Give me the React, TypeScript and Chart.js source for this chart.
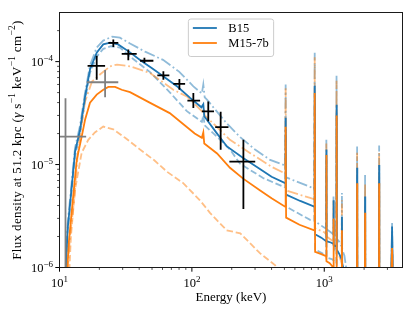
import React, { useEffect, useRef } from 'react';
import { Chart, registerables } from 'chart.js';

Chart.register(...registerables);

// ---------- axis ranges & tick labels ----------
const X_MIN = 10;
const X_MAX = 3900;
const Y_MIN = 1e-6;
const Y_MAX = 3e-4;
const X_TICK_VALUES = [10, 100, 1000];
const X_TICK_EXP = ['1', '2', '3'];
const Y_TICK_VALUES = [1e-6, 1e-5, 1e-4];
const Y_TICK_EXP = ['\u22126', '\u22125', '\u22124'];
const X_TITLE = 'Energy (keV)';
const LEGEND_LABELS = ['B15', 'M15-7b'];

// ---------- model spectra: [energy keV, flux] ----------
const B15_NOMINAL: [number, number][] = [
  [11.0, 6e-7], [11.5, 2.3e-6], [12.4, 6.3e-6], [13.1, 1.33e-5], [14.3, 2.18e-5], [15.6, 4.56e-5],
  [17.0, 8.4e-5], [19.1, 1.22e-4], [21.4, 1.47e-4], [24.1, 1.53e-4], [27.7, 1.47e-4], [34.1, 1.23e-4],
  [41.3, 1.02e-4], [50.0, 8.6e-5], [60.0, 7.3e-5], [78.0, 5.7e-5], [97.0, 4.45e-5], [118, 3.6e-5],
  [122, 3.85e-5], [124, 2.95e-5], [154, 2.02e-5], [184, 1.5e-5], [244, 1.16e-5], [316, 9.3e-6],
  [400, 7.6e-6], [506, 6.6e-6], [511, 2.85e-5], [515, 5.1e-6], [658, 4.43e-6], [840, 3.9e-6],
  [847, 5.84e-5], [853, 2.1e-6], [950, 1.95e-6], [1032, 1.8e-6], [1037, 1.4e-5], [1042, 1.8e-6],
  [1120, 1.75e-6], [1170, 1.7e-6], [1175, 4.5e-6], [1180, 1.65e-6], [1232, 1.6e-6], [1238, 3.8e-5],
  [1244, 1.5e-6], [1300, 1.35e-6], [1354, 1.2e-6], [1360, 3.1e-6], [1366, 1.1e-6], [1450, 8e-7],
  [1500, 5e-7], [1765, 5e-7], [1771, 9.3e-6], [1777, 5e-7], [2027, 5e-7], [2034, 4.9e-6], [2041, 5e-7],
  [2590, 5e-7], [2598, 9.9e-6], [2606, 5e-7], [3190, 5e-7], [3253, 2.5e-6], [3310, 5e-7], [4000, 5e-7],
];

const B15_UPPER: [number, number][] = [
  [11.0, 7e-7], [11.5, 2.6e-6], [12.4, 7e-6], [13.1, 1.45e-5], [14.3, 2.4e-5], [15.6, 5e-5],
  [17.0, 9.2e-5], [19.1, 1.37e-4], [21.4, 1.6e-4], [25.0, 1.75e-4], [28.6, 1.71e-4], [34.1, 1.5e-4],
  [44.3, 1.25e-4], [60.5, 1.04e-4], [80, 8.0e-5], [102.6, 5.75e-5], [119, 4.9e-5], [122, 6e-5],
  [125, 4.5e-5], [130, 4.27e-5], [184, 2.5e-5], [231, 1.85e-5], [300, 1.4e-5], [390, 1.11e-5],
  [506, 9.8e-6], [511, 6e-5], [515, 7.5e-6], [782, 6.07e-6], [840, 5.8e-6], [847, 1.22e-4],
  [853, 2.8e-6], [1010, 2.42e-6], [1032, 2.4e-6], [1037, 1.74e-5], [1042, 2.35e-6], [1120, 2.2e-6],
  [1170, 2.1e-6], [1175, 4.9e-6], [1180, 2.05e-6], [1232, 2e-6], [1238, 7.3e-5], [1244, 1.9e-6],
  [1290, 1.8e-6], [1354, 1.6e-6], [1360, 5.3e-6], [1366, 1.5e-6], [1420, 1.3e-6], [1500, 8e-7],
  [1600, 5e-7], [1765, 5e-7], [1771, 1.5e-5], [1777, 5e-7], [2027, 5e-7], [2034, 7.9e-6], [2041, 5e-7],
  [2590, 5e-7], [2598, 1.53e-5], [2606, 5e-7], [3190, 5e-7], [3253, 2.7e-6], [3310, 5e-7], [4000, 5e-7],
];

const B15_LOWER: [number, number][] = [
  [11.0, 5e-7], [11.5, 2.1e-6], [12.4, 5.8e-6], [13.1, 1.2e-5], [14.3, 2e-5], [15.6, 4.2e-5],
  [17.0, 7.8e-5], [19.1, 1.12e-4], [21.4, 1.33e-4], [24.5, 1.41e-4], [28.6, 1.37e-4], [34.1, 1.12e-4],
  [48.3, 7.9e-5], [68.4, 5.0e-5], [91.7, 3.3e-5], [119, 2.6e-5], [122, 3.0e-5], [125, 2.4e-5],
  [164, 1.74e-5], [194, 1.4e-5], [231, 1.02e-5], [345, 7.4e-6], [506, 6e-6], [511, 2.2e-5],
  [515, 3.9e-6], [782, 2.9e-6], [840, 2.85e-6], [847, 4.5e-5], [853, 1.5e-6], [1010, 1.33e-6],
  [1032, 1.3e-6], [1037, 1.1e-5], [1042, 1.25e-6], [1150, 1.2e-6], [1232, 1.1e-6], [1238, 3.2e-5],
  [1244, 1e-6], [1300, 7e-7], [1354, 5e-7], [1360, 2.5e-6], [1366, 5e-7], [1765, 5e-7], [1771, 8e-6],
  [1777, 5e-7], [2027, 5e-7], [2034, 4e-6], [2041, 5e-7], [2590, 5e-7], [2598, 8.5e-6], [2606, 5e-7],
  [3190, 5e-7], [3253, 2e-6], [3310, 5e-7], [4000, 5e-7],
];

const M15_NOMINAL: [number, number][] = [
  [11.2, 6e-7], [11.8, 1.85e-6], [12.3, 3.24e-6], [13.5, 1.11e-5], [14.7, 1.86e-5], [15.6, 2.72e-5],
  [17.0, 3.99e-5], [19.1, 4.78e-5], [21.4, 5.33e-5], [23.4, 5.68e-5], [26.3, 5.68e-5], [29.5, 5.33e-5],
  [34.1, 5.05e-5], [48, 4.0e-5], [68, 3.16e-5], [105, 2.0e-5], [119, 1.82e-5], [122, 2.05e-5],
  [124, 1.6e-5], [155, 1.28e-5], [194, 9.3e-6], [244, 7.3e-6], [328, 5.6e-6], [400, 4.7e-6],
  [506, 3.9e-6], [511, 2.33e-5], [515, 3.05e-6], [650, 2.6e-6], [840, 2.3e-6], [847, 4.96e-5],
  [853, 1.42e-6], [950, 1.35e-6], [1032, 1.29e-6], [1037, 1.24e-5], [1042, 1.15e-6], [1100, 1.1e-6],
  [1170, 1.0e-6], [1175, 3e-6], [1180, 9e-7], [1232, 8e-7], [1238, 3e-5], [1244, 7e-7], [1300, 5e-7],
  [1354, 5e-7], [1360, 2.3e-6], [1366, 5e-7], [1765, 5e-7], [1771, 6.6e-6], [1777, 5e-7], [2027, 5e-7],
  [2034, 3.4e-6], [2041, 5e-7], [2590, 5e-7], [2598, 6.6e-6], [2606, 5e-7], [3190, 5e-7],
  [3253, 1.55e-6], [3310, 5e-7], [4000, 5e-7],
];

const M15_UPPER: [number, number][] = [
  [11.3, 6e-7], [12.0, 2e-6], [12.9, 4.5e-6], [13.8, 1.39e-5], [15.6, 4.1e-5], [17.6, 6.4e-5],
  [20.2, 7.5e-5], [24.1, 9.0e-5], [27.2, 9.35e-5], [34.1, 9.0e-5], [48.3, 7.76e-5], [72.4, 5.33e-5],
  [91.7, 4.59e-5], [119, 3.3e-5], [122, 3.7e-5], [125, 3.0e-5], [154, 2.33e-5], [194, 1.74e-5],
  [276, 1.29e-5], [400, 9.5e-6], [506, 8.2e-6], [511, 5.5e-5], [515, 5.6e-6], [782, 4.74e-6],
  [840, 4.6e-6], [847, 1.1e-4], [853, 2.4e-6], [1000, 2.2e-6], [1032, 2.1e-6], [1037, 1.6e-5],
  [1042, 2e-6], [1170, 1.8e-6], [1175, 4.5e-6], [1180, 1.7e-6], [1232, 1.6e-6], [1238, 6.5e-5],
  [1244, 1.5e-6], [1354, 1.1e-6], [1360, 4.5e-6], [1366, 1e-6], [1450, 6e-7], [1765, 5e-7],
  [1771, 1.3e-5], [1777, 5e-7], [2027, 5e-7], [2034, 6.5e-6], [2041, 5e-7], [2590, 5e-7],
  [2598, 1.3e-5], [2606, 5e-7], [3190, 5e-7], [3253, 2.2e-6], [3310, 5e-7], [4000, 5e-7],
];

const M15_LOWER: [number, number][] = [
  [11.6, 5e-7], [12.2, 2e-6], [13.1, 5.7e-6], [14.7, 1.3e-5], [16.5, 1.74e-5], [18.5, 2.05e-5],
  [21.4, 2.34e-5], [25.5, 2.2e-5], [31.3, 1.82e-5], [40, 1.42e-5], [52, 1.1e-5], [65, 8.5e-6],
  [86, 6.6e-6], [115, 4.5e-6], [137, 3.4e-6], [183, 2.3e-6], [232, 2.15e-6], [328, 1.37e-6],
  [426, 1.05e-6], [470, 8e-7], [520, 5e-7],
];

// ---------- measured points (black) ----------
const OBS_E = [19.1, 25.5, 33.1, 43.8, 60.9, 80.5, 102.6, 133, 165, 245];
const OBS_E_LO = [16.3, 23.4, 29.5, 40.6, 54.8, 72.4, 92.5, 119, 150, 192];
const OBS_E_HI = [22.1, 27.8, 38.3, 51.2, 67.6, 88.9, 115.4, 147, 189, 301];
const OBS_F = [9.1e-5, 1.52e-4, 1.19e-4, 1.02e-4, 7.36e-5, 6.07e-5, 4.17e-5, 3.28e-5, 2.31e-5, 1.07e-5];
const OBS_F_LO = [6.68e-5, 1.39e-4, 1.03e-4, 9.7e-5, 6.68e-5, 5.34e-5, 3.54e-5, 2.63e-5, 1.39e-5, 3.71e-6];
const OBS_F_HI = [1.14e-4, 1.64e-4, 1.31e-4, 1.09e-4, 8.05e-5, 6.78e-5, 4.95e-5, 4.1e-5, 3.26e-5, 1.74e-5];

// ---------- measured points (gray) ----------
const GRAY_E = [11.1, 22.1];
const GRAY_E_LO = [9.5, 16.1];
const GRAY_E_HI = [15.9, 27.8];
const GRAY_F = [1.87e-5, 6.3e-5];
const GRAY_F_LO = [1e-8, 4.5e-5];
const GRAY_F_HI = [4.4e-5, 8.3e-5];

// ---------- styles ----------
const BLUE = '#1f77b4';
const ORANGE = '#ff7f0e';
const BLUE_LIGHT = 'rgba(31,119,180,0.5)';
const ORANGE_LIGHT = 'rgba(255,127,14,0.5)';
const DASHED = [6.5, 2.8];
const DASHDOT = [11, 2.8, 1.8, 2.8];
const FONT = "'Liberation Serif', 'DejaVu Serif', serif";
const TICK_FS = 12.5;
const TITLE_FS = 13;
const LEGEND_FS = 12.5;

const toXY = (pairs: [number, number][]) => pairs.map(([x, y]) => ({ x, y }));

function crossData(xs: number[], xlo: number[], xhi: number[], ys: number[], ylo: number[], yhi: number[]) {
  const pts: { x: number; y: number | null }[] = [];
  xs.forEach((x, i) => {
    pts.push({ x: xlo[i], y: ys[i] }, { x: xhi[i], y: ys[i] }, { x, y: null });
    pts.push({ x, y: ylo[i] }, { x, y: yhi[i] }, { x, y: null });
  });
  return pts;
}

type Part = { t: string; sup?: boolean; it?: boolean };

function partFont(p: Part, size: number) {
  const s = p.sup ? size * 0.72 : size;
  return `${p.it ? 'italic ' : ''}${s}px ${FONT}`;
}

function richWidth(ctx: CanvasRenderingContext2D, parts: Part[], size: number) {
  let w = 0;
  for (const p of parts) {
    ctx.font = partFont(p, size);
    w += ctx.measureText(p.t).width;
  }
  return w;
}

function drawRich(ctx: any, parts: Part[], x: number, y: number, size: number, align: 'left' | 'center' | 'right', spacing = 0) {
  ctx.letterSpacing = `${spacing}px`;
  const w = richWidth(ctx, parts, size);
  let cx = align === 'left' ? x : align === 'center' ? x - w / 2 : x - w;
  ctx.textAlign = 'left';
  ctx.textBaseline = 'alphabetic';
  for (const p of parts) {
    ctx.font = partFont(p, size);
    ctx.fillText(p.t, cx, p.sup ? y - size * 0.42 : y);
    cx += ctx.measureText(p.t).width;
  }
  ctx.letterSpacing = '0px';
}

const Y_TITLE: Part[] = [
  { t: 'Flux density at 51.2 kpc (' },
  { t: '\u03b3', it: true },
  { t: ' s' }, { t: '\u22121', sup: true },
  { t: ' keV' }, { t: '\u22121', sup: true },
  { t: ' cm' }, { t: '\u22122', sup: true },
  { t: ')' },
];

const decoPlugin = {
  id: 'deco',
  afterDraw(chart: any) {
    const { ctx, chartArea: a, scales } = chart;
    const xs = scales.x;
    const ys = scales.y;
    ctx.save();
    ctx.fillStyle = '#000';
    ctx.strokeStyle = '#000';

    // ticks (major + minor)
    for (let d = -8; d <= 4; d++) {
      for (let m = 1; m <= 9; m++) {
        const v = m * Math.pow(10, d);
        const len = m === 1 ? 4.2 : 2.4;
        ctx.lineWidth = m === 1 ? 1 : 0.7;
        if (v >= X_MIN * 0.999 && v <= X_MAX) {
          const px = xs.getPixelForValue(v);
          ctx.beginPath();
          ctx.moveTo(px, a.bottom);
          ctx.lineTo(px, a.bottom + len);
          ctx.stroke();
        }
        if (v >= Y_MIN * 0.999 && v <= Y_MAX) {
          const py = ys.getPixelForValue(v);
          ctx.beginPath();
          ctx.moveTo(a.left, py);
          ctx.lineTo(a.left - len, py);
          ctx.stroke();
        }
      }
    }

    // frame
    ctx.lineWidth = 1;
    ctx.strokeStyle = '#1a1a1a';
    ctx.strokeRect(a.left, a.top, a.right - a.left, a.bottom - a.top);

    // tick labels
    ctx.fillStyle = '#000';
    X_TICK_VALUES.forEach((v, i) => {
      const px = xs.getPixelForValue(v);
      drawRich(ctx, [{ t: '10' }, { t: X_TICK_EXP[i], sup: true }], px, a.bottom + 19.5, TICK_FS, 'center');
    });
    Y_TICK_VALUES.forEach((v, i) => {
      const py = ys.getPixelForValue(v);
      drawRich(ctx, [{ t: '10' }, { t: Y_TICK_EXP[i], sup: true }], a.left - 6.5, py + 4.5, TICK_FS, 'right');
    });

    // axis titles
    ctx.font = `${TITLE_FS}px ${FONT}`;
    ctx.textAlign = 'center';
    ctx.textBaseline = 'alphabetic';
    ctx.fillText(X_TITLE, (a.left + a.right) / 2, 300.5);

    ctx.save();
    ctx.translate(20.5, (a.top + a.bottom) / 2);
    ctx.rotate(-Math.PI / 2);
    drawRich(ctx, Y_TITLE, 0, 0, TITLE_FS, 'center', 0.35);
    ctx.restore();

    // legend
    ctx.font = `${LEGEND_FS}px ${FONT}`;
    const tw = Math.max(...LEGEND_LABELS.map((l) => ctx.measureText(l).width));
    const w = 40 + tw + 5;
    const h = 37.5;
    const bx = (a.left + a.right) / 2 - w / 2;
    const by = a.top + 6.5;
    const r = 2.5;
    ctx.beginPath();
    ctx.moveTo(bx + r, by);
    ctx.lineTo(bx + w - r, by);
    ctx.arcTo(bx + w, by, bx + w, by + r, r);
    ctx.lineTo(bx + w, by + h - r);
    ctx.arcTo(bx + w, by + h, bx + w - r, by + h, r);
    ctx.lineTo(bx + r, by + h);
    ctx.arcTo(bx, by + h, bx, by + h - r, r);
    ctx.lineTo(bx, by + r);
    ctx.arcTo(bx, by, bx + r, by, r);
    ctx.closePath();
    ctx.fillStyle = 'rgba(255,255,255,0.8)';
    ctx.fill();
    ctx.strokeStyle = '#cccccc';
    ctx.lineWidth = 1;
    ctx.stroke();
    const colors = [BLUE, ORANGE];
    LEGEND_LABELS.forEach((lab, i) => {
      const ry = by + 9 + i * 15;
      ctx.strokeStyle = colors[i];
      ctx.lineWidth = 1.8;
      ctx.beginPath();
      ctx.moveTo(bx + 4.5, ry);
      ctx.lineTo(bx + 28.5, ry);
      ctx.stroke();
      ctx.fillStyle = '#000';
      ctx.font = `${LEGEND_FS}px ${FONT}`;
      ctx.textAlign = 'left';
      ctx.textBaseline = 'middle';
      ctx.fillText(lab, bx + 40, ry + 0.5);
    });

    ctx.restore();
  },
};

export default function App() {
  const ref = useRef<HTMLCanvasElement | null>(null);

  useEffect(() => {
    document.body.style.margin = '0';
    const canvas = ref.current;
    if (!canvas) return;

    const line = (data: [number, number][], color: string, dash: number[], order: number) => ({
      data: toXY(data),
      borderColor: color,
      backgroundColor: color,
      borderWidth: 1.8,
      borderDash: dash,
      pointRadius: 0,
      tension: 0,
      fill: false,
      clip: 0,
      order,
    });

    const chart = new Chart(canvas, {
      type: 'line',
      data: {
        datasets: [
          { label: 'B15 upper', ...line(B15_UPPER, BLUE_LIGHT, DASHDOT, 9) },
          { label: 'B15 lower', ...line(B15_LOWER, BLUE_LIGHT, DASHED, 8) },
          { label: 'M15-7b upper', ...line(M15_UPPER, ORANGE_LIGHT, DASHDOT, 7) },
          { label: 'M15-7b lower', ...line(M15_LOWER, ORANGE_LIGHT, DASHED, 6) },
          { label: 'B15', ...line(B15_NOMINAL, BLUE, [], 5) },
          { label: 'M15-7b', ...line(M15_NOMINAL, ORANGE, [], 4) },
          {
            label: 'gray data',
            data: crossData(GRAY_E, GRAY_E_LO, GRAY_E_HI, GRAY_F, GRAY_F_LO, GRAY_F_HI),
            borderColor: '#808080',
            borderWidth: 1.8,
            pointRadius: 0,
            spanGaps: false,
            clip: 0,
            order: 2,
          },
          {
            label: 'data',
            data: crossData(OBS_E, OBS_E_LO, OBS_E_HI, OBS_F, OBS_F_LO, OBS_F_HI),
            borderColor: '#000000',
            borderWidth: 1.8,
            pointRadius: 0,
            spanGaps: false,
            clip: 0,
            order: 1,
          },
        ] as any,
      },
      options: {
        animation: false,
        responsive: false,
        devicePixelRatio: 1,
        layout: { padding: { top: 12.5, right: 12.5, left: 0, bottom: 0 } },
        plugins: { legend: { display: false }, tooltip: { enabled: false } },
        elements: { point: { radius: 0 }, line: { tension: 0 } },
        scales: {
          x: {
            type: 'logarithmic',
            min: X_MIN,
            max: X_MAX,
            ticks: { display: false },
            grid: { display: false },
            border: { display: false },
            afterFit: (s: any) => { s.height = 45.5; },
          },
          y: {
            type: 'logarithmic',
            min: Y_MIN,
            max: Y_MAX,
            ticks: { display: false },
            grid: { display: false },
            border: { display: false },
            afterFit: (s: any) => { s.width = 59.5; },
          },
        },
      } as any,
      plugins: [decoPlugin],
    });

    return () => chart.destroy();
  }, []);

  return (
    <div style={{ width: 415, height: 313 }}>
      <canvas ref={ref} width={415} height={313} />
    </div>
  );
}
